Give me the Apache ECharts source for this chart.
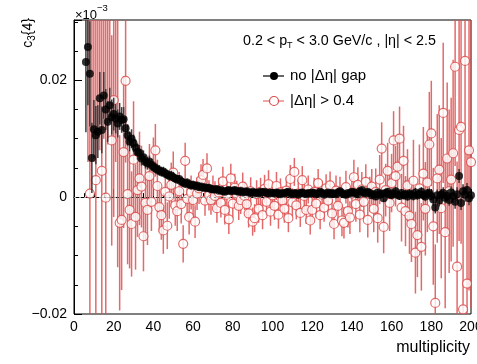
<!DOCTYPE html>
<html><head><meta charset="utf-8">
<script src="https://cdn.jsdelivr.net/npm/echarts@6/dist/echarts.min.js"></script>
<style>html,body{margin:0;padding:0;background:#fff}#c{width:477px;height:364px}</style>
</head><body><div id="c"></div>
<script>
// multiplicity bins 6..200
const multStart = 6, multEnd = 200;
const xTickInterval = 20;
const yTickValues = [-0.02, 0, 0.02];

// c3{4}, no |Δη| gap
const noGapVal = [
  0.0231, 0.0257, 0.0211, 0.0067, 0.0116,
  0.0106, 0.0112, 0.0169, 0.0115, 0.0174, 0.0150, 0.0129, 0.0157, 0.0137, 0.0142,
  0.0134, 0.0126, 0.0138, 0.0132, 0.0133, 0.0118, 0.0106, 0.0095, 0.0100, 0.0092,
  0.0085, 0.0077, 0.0076, 0.0066, 0.0068, 0.0060, 0.0058, 0.0061, 0.0055, 0.0052,
  0.0050, 0.0047, 0.0046, 0.0043, 0.0044, 0.0040, 0.0039, 0.0036, 0.0037, 0.0034,
  0.0032, 0.0030, 0.0031, 0.0027, 0.0025, 0.0023, 0.0025, 0.0022, 0.0020, 0.0021,
  0.0019, 0.0020, 0.0017, 0.0018, 0.0016, 0.0017, 0.0015, 0.0016, 0.0014, 0.0013,
  0.0013, 0.0014, 0.0011, 0.0012, 0.0010, 0.0009, 0.0011, 0.0012, 0.0010, 0.0011,
  0.0012, 0.0010, 0.0009, 0.0011, 0.0008, 0.0009, 0.0010, 0.0008, 0.0007, 0.0009,
  0.0007, 0.0008, 0.0006, 0.0009, 0.0008, 0.0009, 0.0007, 0.0006, 0.0008, 0.0007,
  0.0006, 0.0008, 0.0007, 0.0005, 0.0007, 0.0006, 0.0008, 0.0009, 0.0006, 0.0005,
  0.0007, 0.0006, 0.0004, 0.0007, 0.0008, 0.0006, 0.0005, 0.0007, 0.0006, 0.0008,
  0.0007, 0.0005, 0.0006, 0.0009, 0.0007, 0.0004, 0.0006, 0.0008, 0.0005, 0.0007,
  0.0006, 0.0005, 0.0008, 0.0010, 0.0007, 0.0005, 0.0004, 0.0007, 0.0006, 0.0009,
  0.0008, 0.0006, 0.0005, 0.0010, 0.0012, 0.0008, 0.0006, 0.0009, 0.0007, 0.0003,
  0.0005, 0.0001, 0.0008, 0.0004, 0.0006, -0.0002, 0.0007, 0.0009, 0.0005, 0.0003,
  0.0006, 0.0010, 0.0004, 0.0002, 0.0007, 0.0003, 0.0005, 0.0001, 0.0006, 0.0004,
  0.0002, 0.0008, 0.0003, 0.0005, 0.0009, 0.0003, 0.0001, 0.0006, 0.0007, 0.0002,
  -0.0004, -0.0018, 0.0003, -0.0006, 0.0004, 0.0007, -0.0001, 0.0002, -0.0005, 0.0008,
  0.0002, -0.0008, 0.0005, 0.0036, -0.0010, 0.0010, 0.0004, 0.0012, -0.0002, 0.0003
];
const noGapErr = [
  0.012, 0.010, 0.009, 0.006, 0.005,
  0.005, 0.0045, 0.0045, 0.004, 0.004, 0.0035, 0.0035, 0.003, 0.003, 0.0028,
  0.0025, 0.0024, 0.0023, 0.0022, 0.0021, 0.0019, 0.0018, 0.0017, 0.0016, 0.0015,
  0.0014, 0.0013, 0.0013, 0.0012, 0.0012, 0.0011, 0.0011, 0.0010, 0.0010, 0.0009,
  0.0009, 0.0009, 0.0009, 0.0008, 0.0008, 0.0008, 0.0008, 0.0008, 0.0008, 0.0008,
  0.0007, 0.0007, 0.0007, 0.0007, 0.0007, 0.0007, 0.0007, 0.0007, 0.0007, 0.0007,
  0.0006, 0.0006, 0.0006, 0.0006, 0.0006, 0.0006, 0.0006, 0.0006, 0.0006, 0.0006,
  0.0005, 0.0005, 0.0005, 0.0005, 0.0005, 0.0005, 0.0005, 0.0005, 0.0005, 0.0005,
  0.0005, 0.0005, 0.0005, 0.0005, 0.0005, 0.0005, 0.0005, 0.0005, 0.0005, 0.0005,
  0.0005, 0.0005, 0.0005, 0.0005, 0.0005, 0.0005, 0.0005, 0.0005, 0.0005, 0.0005,
  0.0005, 0.0005, 0.0005, 0.0005, 0.0005, 0.0005, 0.0005, 0.0005, 0.0005, 0.0005,
  0.0005, 0.0005, 0.0005, 0.0005, 0.0005, 0.0005, 0.0005, 0.0005, 0.0005, 0.0005,
  0.0005, 0.0005, 0.0005, 0.0005, 0.0005, 0.0005, 0.0005, 0.0005, 0.0005, 0.0005,
  0.0005, 0.0005, 0.0005, 0.0005, 0.0005, 0.0005, 0.0005, 0.0005, 0.0005, 0.0005,
  0.0005, 0.0005, 0.0005, 0.0005, 0.0005, 0.0005, 0.0005, 0.0005, 0.0005, 0.0005,
  0.0006, 0.0006, 0.0006, 0.0006, 0.0006, 0.0006, 0.0006, 0.0006, 0.0006, 0.0006,
  0.0007, 0.0007, 0.0007, 0.0007, 0.0007, 0.0007, 0.0007, 0.0007, 0.0007, 0.0007,
  0.0008, 0.0008, 0.0008, 0.0008, 0.0008, 0.0008, 0.0008, 0.0008, 0.0008, 0.0008,
  0.0010, 0.0010, 0.0010, 0.0010, 0.0010, 0.0010, 0.0010, 0.0010, 0.0010, 0.0010,
  0.0012, 0.0012, 0.0012, 0.0012, 0.0012, 0.0012, 0.0012, 0.0012, 0.0012, 0.0012
];

// c3{4}, |Δη| > 0.4
const gapVal = [
  null, 0.036, 0.0006, 0.040, 0.034,
  0.0029, 0.038, 0.033, 0.0045, 0.036, -0.0001, 0.034, 0.035, 0.0097, 0.0166,
  0.031, 0.033, -0.0044, -0.0039, 0.0077, 0.0199, 0.0005, -0.0022, -0.0046, 0.0064,
  -0.0034, 0.0012, 0.0032, 0.0018, -0.0067, -0.0010, -0.0022, 0.0036, -0.0008, 0.0052,
  0.0080, 0.0019, -0.0017, -0.0031, -0.0057, 0.0009, -0.0049, 0.0001, 0.0021, 0.0042,
  -0.0014, -0.0024, 0.0010, -0.0012, -0.0080, 0.0062, -0.0003, -0.0034, 0.0008, -0.0005,
  -0.0042, 0.0006, 0.0015, 0.0029, 0.0038, -0.0006, 0.0049, 0.0003, -0.0005, 0.0012,
  0.0002, -0.0019, 0.0008, -0.0010, 0.0027, -0.0022, 0.0004, -0.0038, 0.0032, -0.0011,
  0.0016, 0.0004, -0.0015, -0.0005, 0.0018, 0.0002, -0.0012, -0.0028, 0.0010, -0.0042,
  -0.0036, 0.0005, -0.0020, 0.0009, -0.0031, 0.0014, -0.0008, 0.0022, -0.0025, 0.0003,
  -0.0015, 0.0019, -0.0030, 0.0008, -0.0006, -0.0020, 0.0011, -0.0036, 0.0031, -0.0009,
  0.0043, -0.0014, 0.0006, -0.0027, 0.0029, 0.0002, -0.0022, 0.0013, -0.0040, -0.0022,
  0.0009, -0.0011, 0.0024, -0.0031, 0.0004, -0.0018, 0.0015, -0.0006, 0.0020, -0.0028,
  -0.0046, 0.0011, -0.0015, 0.0008, -0.0040, -0.0044, 0.0017, -0.0024, -0.0035, 0.0006,
  0.0034, -0.0012, 0.0021, -0.0030, 0.0013, -0.0008, 0.0026, -0.0039, 0.0005, 0.0018,
  -0.0020, 0.0009, -0.0036, 0.0030, 0.0083, -0.0051, 0.0012, 0.0045, -0.0010, 0.0024,
  0.0097, 0.0036, 0.0052, 0.0100, -0.0018, 0.0062, -0.0024, 0.0020, -0.0032, -0.0046,
  0.0028, -0.0095, -0.0065, 0.0015, -0.0085, 0.0040, -0.0020, 0.0025, 0.0090, 0.0109,
  -0.0050, -0.0181, 0.0032, 0.0047, -0.0019, 0.0144, -0.0060, 0.0066, 0.0010, 0.0030,
  0.0075, 0.0223, -0.0119, 0.0115, 0.0120, -0.0192, 0.0233, -0.0148, 0.0080, 0.0060
];
const gapErr = [
  0, 0.030, 0.040, 0.030, 0.028,
  0.040, 0.030, 0.025, 0.040, 0.026, 0.040, 0.025, 0.022, 0.018, 0.02,
  0.025, 0.045, 0.015, 0.012, 0.013, 0.014, 0.012, 0.010, 0.009, 0.010,
  0.009, 0.008, 0.008, 0.007, 0.006, 0.0065, 0.006, 0.0055, 0.005, 0.005,
  0.0045, 0.0045, 0.0042, 0.0042, 0.004, 0.004, 0.004, 0.0038, 0.0038, 0.0036,
  0.0035, 0.0034, 0.0033, 0.0033, 0.0032, 0.0031, 0.003, 0.003, 0.0029, 0.0029,
  0.0028, 0.0028, 0.0027, 0.0027, 0.0027, 0.0026, 0.0026, 0.0026, 0.0025, 0.0025,
  0.0025, 0.0025, 0.0025, 0.0025, 0.0025, 0.0025, 0.0025, 0.0025, 0.0025, 0.0025,
  0.0024, 0.0024, 0.0024, 0.0024, 0.0024, 0.0024, 0.0024, 0.0024, 0.0024, 0.0024,
  0.0024, 0.0024, 0.0024, 0.0024, 0.0024, 0.0024, 0.0024, 0.0024, 0.0024, 0.0024,
  0.0024, 0.0024, 0.0024, 0.0024, 0.0024, 0.0024, 0.0024, 0.0024, 0.0024, 0.0024,
  0.0024, 0.0024, 0.0024, 0.0024, 0.0024, 0.0024, 0.0024, 0.0024, 0.0024, 0.0024,
  0.0024, 0.0024, 0.0024, 0.0024, 0.0024, 0.0024, 0.0024, 0.0024, 0.0024, 0.0024,
  0.0026, 0.0026, 0.0026, 0.0027, 0.0027, 0.0027, 0.0028, 0.0028, 0.0028, 0.0028,
  0.003, 0.003, 0.003, 0.003, 0.003, 0.003, 0.003, 0.003, 0.003, 0.003,
  0.004, 0.004, 0.0042, 0.0042, 0.0045, 0.0045, 0.0045, 0.0048, 0.0048, 0.005,
  0.005, 0.0052, 0.0055, 0.0055, 0.0058, 0.006, 0.006, 0.0062, 0.0065, 0.0065,
  0.007, 0.007, 0.0072, 0.0075, 0.0075, 0.008, 0.008, 0.0085, 0.009, 0.009,
  0.010, 0.010, 0.011, 0.011, 0.012, 0.012, 0.013, 0.013, 0.014, 0.014,
  0.016, 0.017, 0.018, 0.019, 0.020, 0.021, 0.022, 0.023, 0.024, 0.025
];

const multiplicity = [];
for (let m = multStart; m <= multEnd; m++) multiplicity.push(m);

function pts(vals, errs) {
  const out = [];
  multiplicity.forEach((m, i) => { if (vals[i] !== null) out.push([m, vals[i], errs[i]]); });
  return out;
}
const noGapData = pts(noGapVal, noGapErr);
const gapData = pts(gapVal, gapErr);

const FONT = '"Liberation Sans", Arial, Helvetica, sans-serif';
const RED = '#dc4a4a';
const RED_LINE = 'rgba(222,80,80,0.85)';

function errRender(color, width) {
  return function (params, api) {
    const x = api.value(0), y = api.value(1), e = api.value(2);
    const p1 = api.coord([x, y - e]);
    const p2 = api.coord([x, y + e]);
    return {
      type: 'line',
      shape: { x1: p1[0], y1: p1[1], x2: p2[0], y2: p2[1] },
      style: { stroke: color, lineWidth: width }
    };
  };
}

const chart = echarts.init(document.getElementById('c'), null, { renderer: 'canvas' });
const yMin = -0.02, yMax = 0.0303;
chart.setOption({
  animation: false,
  backgroundColor: '#fff',
  grid: { left: 74, right: 6, top: 20, bottom: 50, show: true, borderColor: '#000', borderWidth: 1, containLabel: false, outerBoundsMode: 'none' },
  xAxis: {
    type: 'value', min: 0, max: 200, interval: xTickInterval,
    axisLine: { show: true, lineStyle: { color: '#000', width: 1 } },
    axisTick: { show: true, inside: true, length: 8, lineStyle: { color: '#000' } },
    minorTick: { show: true, splitNumber: 4, length: 4, lineStyle: { color: '#000' } },
    splitLine: { show: false },
    axisLabel: { color: '#000', fontSize: 14, fontFamily: FONT, margin: 6, hideOverlap: false }
  },
  yAxis: [{
    type: 'value', min: yMin, max: yMax, interval: 0.02,
    axisLine: { show: true, lineStyle: { color: '#000', width: 1 } },
    axisTick: { show: true, inside: true, length: 8, lineStyle: { color: '#000' } },
    splitLine: { show: false },
    axisLabel: {
      color: '#000', fontSize: 14, fontFamily: FONT, margin: 7,
      formatter: function (v) {
        for (const t of yTickValues) {
          if (Math.abs(v - t) < 1e-9) return t === 0 ? '0' : (t < 0 ? '\u2212' + Math.abs(t).toFixed(2) : t.toFixed(2));
        }
        return '';
      }
    }
  }, {
    type: 'value', min: yMin, max: yMax, interval: 0.005, position: 'left',
    axisLine: { show: false },
    axisTick: { show: true, inside: true, length: 4, lineStyle: { color: '#000' } },
    splitLine: { show: false },
    axisLabel: { show: false }
  }],
  series: [
    {
      type: 'scatter', data: [], z: 1, silent: true,
      markLine: {
        silent: true, symbol: ['none', 'none'], label: { show: false },
        lineStyle: { color: '#999', type: [2, 3], width: 1 },
        data: [{ yAxis: 0 }]
      }
    },
    {
      name: '|Δη| > 0.4 err', type: 'custom', z: 2, clip: true,
      renderItem: errRender(RED_LINE, 1.5), data: gapData,
      encode: { x: 0, y: 1 }
    },
    {
      name: '|Δη| > 0.4', type: 'scatter', z: 3, clip: true,
      symbol: 'circle', symbolSize: 9,
      itemStyle: { color: '#fff', borderColor: RED, borderWidth: 1.2 },
      data: gapData.map(d => [d[0], d[1]])
    },
    {
      name: 'no |Δη| gap err', type: 'custom', z: 4, clip: true,
      renderItem: errRender('#3a3a3a', 1.5), data: noGapData,
      encode: { x: 0, y: 1 }
    },
    {
      name: 'no |Δη| gap', type: 'scatter', z: 5, clip: true,
      symbol: 'circle', symbolSize: 8,
      itemStyle: { color: '#000' },
      data: noGapData.map(d => [d[0], d[1]])
    }
  ],
  graphic: [
    { type: 'text', left: 75, top: 9, style: { text: '\u00d710', fontSize: 13, fontFamily: FONT, fill: '#000' } },
    { type: 'text', left: 97, top: 3, style: { text: '\u22123', fontSize: 9.5, fontFamily: FONT, fill: '#000' } },
    {
      type: 'text', x: 28, y: 33, rotation: Math.PI / 2,
      style: {
        text: 'c{sub|3}{4}', fontSize: 14, fontFamily: FONT, fill: '#000', lineHeight: 18,
        align: 'center', verticalAlign: 'middle',
        rich: { sub: { fontSize: 10, fontFamily: FONT, lineHeight: 10, verticalAlign: 'bottom' } }
      }
    },
    {
      type: 'text', x: 243, y: 41,
      style: {
        text: '0.2 < p{sub|T} < 3.0 GeV/c , |η| < 2.5', fontSize: 14.3, fontFamily: FONT, fill: '#000', lineHeight: 18,
        align: 'left', verticalAlign: 'middle',
        rich: { sub: { fontSize: 9, fontFamily: FONT, lineHeight: 8, verticalAlign: 'bottom' } }
      }
    },
    { type: 'line', shape: { x1: 263, y1: 76, x2: 284, y2: 76 }, style: { stroke: '#000', lineWidth: 1.2 } },
    { type: 'circle', shape: { cx: 274, cy: 76, r: 4 }, style: { fill: '#000' } },
    { type: 'text', x: 290, y: 76, style: { text: 'no |Δη| gap', fontSize: 15, fontFamily: FONT, fill: '#000', verticalAlign: 'middle' } },
    { type: 'line', shape: { x1: 263, y1: 101, x2: 284, y2: 101 }, style: { stroke: RED_LINE, lineWidth: 1.2 } },
    { type: 'circle', shape: { cx: 274, cy: 101, r: 4.5 }, style: { fill: '#fff', stroke: RED, lineWidth: 1.2 } },
    { type: 'text', x: 290, y: 101, style: { text: '|Δη| > 0.4', fontSize: 15, fontFamily: FONT, fill: '#000', verticalAlign: 'middle' } },
    { type: 'text', right: 7, top: 340, style: { text: 'multiplicity', fontSize: 16, fontFamily: FONT, fill: '#000' } }
  ]
});
</script>
</body></html>
